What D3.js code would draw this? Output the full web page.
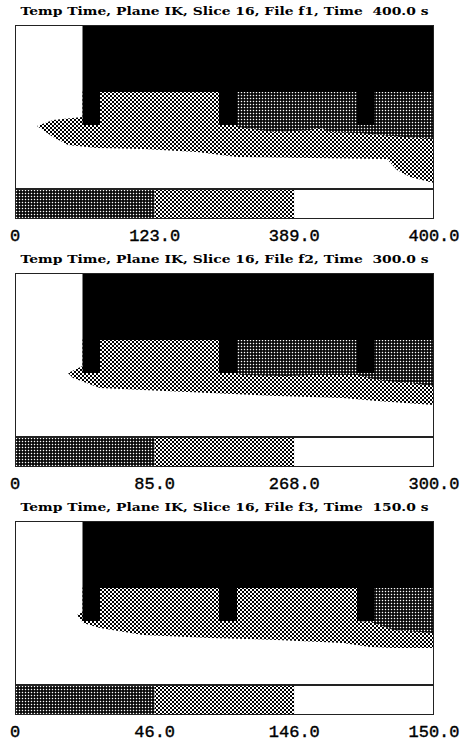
<!DOCTYPE html>
<html><head><meta charset="utf-8">
<script src="https://cdn.jsdelivr.net/npm/d3@7"></script>
<style>html,body{margin:0;padding:0;background:#fff;} svg{display:block}</style>
</head><body><svg id="chart" width="471" height="740"></svg>
<script>
// ---- data ----
const titles = [
  "Temp Time, Plane IK, Slice 16, File f1, Time  400.0 s",
  "Temp Time, Plane IK, Slice 16, File f2, Time  300.0 s",
  "Temp Time, Plane IK, Slice 16, File f3, Time  150.0 s"
];
const tickLabels = [
  ["0", "123.0", "389.0", "400.0"],
  ["0", "85.0", "268.0", "300.0"],
  ["0", "46.0", "146.0", "150.0"]
];
const legendClasses = ["dark", "light", "white"];

// plane geometry in grid units (I across, K down)
const planeWidth = 41.9, planeDepth = 16.4;
const blackTop = [6.75, 41.9, 0, 6.7];          // x0, x1, y0, y1
const teeth = [[6.75, 8.5], [20.4, 22.2], [34.2, 35.9]];
const toothBottom = 10.0;

// temperature band edges per file
const plumeTop = [
  [[2.2, 10.1], [3.8, 9.5], [6.75, 9.2]],
  [[5.3, 10.0], [6.75, 9.3]],
  [[6.2, 9.4], [6.75, 9.1]]
];
const plumeBottom = [
  [[2.2, 10.1], [3.8, 11.2], [5.3, 12.0], [8.2, 12.3], [12.8, 12.4], [18.2, 12.7], [22.2, 13.2],
   [29.5, 13.3], [37.2, 13.4], [38.2, 14.5], [39.5, 15.2], [41.9, 15.8]],
  [[5.3, 10.0], [5.8, 10.5], [8.5, 11.5], [12.8, 11.7], [19.5, 12.0], [26.2, 12.3], [32.8, 12.5],
   [36.2, 12.8], [41.9, 13.2]],
  [[6.2, 9.4], [6.8, 10.2], [8.5, 10.7], [12.8, 11.4], [19.5, 11.7], [26.2, 11.9], [32.8, 12.2],
   [35.5, 12.6], [37.8, 12.7], [41.9, 12.7]]
];
const darkEdge = [
  [[22.2, 10.2], [23.0, 10.3], [26.0, 10.7], [29.5, 10.5], [30.5, 10.3], [31.5, 10.7], [34.5, 10.8],
   [36.5, 11.0], [39.0, 11.2], [41.9, 11.4]],
  [[22.2, 10.1], [22.8, 10.2], [27.2, 10.3], [29.5, 10.2], [34.2, 10.2], [36.2, 10.7], [39.5, 11.0],
   [41.9, 11.3]],
  [[34.2, 10.0], [35.6, 10.1], [37.8, 10.9], [41.9, 11.2]]
];

// ---- layout ----
const panelTop0 = 25, panelStep = 248, frameH = 164, legendH = 30;
const left = 15, right = 434;

const svg = d3.select("#chart");
const defs = svg.append("defs");
const pl = defs.append("pattern").attr("id", "light").attr("patternUnits", "userSpaceOnUse")
  .attr("width", 4).attr("height", 4);
pl.append("rect").attr("width", 4).attr("height", 4).attr("fill", "#fff");
pl.append("rect").attr("x", 0).attr("y", 0).attr("width", 2).attr("height", 2).attr("fill", "#000");
pl.append("rect").attr("x", 2).attr("y", 2).attr("width", 2).attr("height", 2).attr("fill", "#000");
const pd = defs.append("pattern").attr("id", "dark").attr("patternUnits", "userSpaceOnUse")
  .attr("width", 3).attr("height", 3);
pd.append("rect").attr("width", 3).attr("height", 3).attr("fill", "#000");
pd.append("rect").attr("x", 0.8).attr("y", 0.8).attr("width", 1.4).attr("height", 1.4).attr("fill", "#fff");

const fillOf = c => c === "white" ? "#fff" : `url(#${c})`;

const x = d3.scaleLinear().domain([0, planeWidth]).range([left, right]);
const y = d3.scaleLinear().domain([0, planeDepth]).range([0, frameH]);
const line = d3.line().x(d => x(d[0])).y(d => y(d[1]));
const legX = d3.scaleBand().domain(legendClasses.map((d, i) => i)).range([left, right]).paddingInner(0);
const tickX = d3.scaleLinear().domain([0, 3]).range([left, right]);

titles.forEach((title, i) => {
  const g = svg.append("g").attr("transform", `translate(0,${panelTop0 + i * panelStep})`);

  g.append("rect").attr("x", x(0)).attr("y", y(0)).attr("width", x(planeWidth) - x(0))
    .attr("height", y(planeDepth) - y(0)).attr("fill", "#fff");

  const lightPts = plumeTop[i]
    .concat([[blackTop[0], blackTop[3]], [planeWidth, blackTop[3]]])
    .concat(plumeBottom[i].slice().reverse());
  g.append("path").attr("d", line(lightPts) + "Z").attr("fill", "url(#light)");

  const de = darkEdge[i];
  const darkPts = [[de[0][0], blackTop[3]], [planeWidth, blackTop[3]]].concat(de.slice().reverse());
  g.append("path").attr("d", line(darkPts) + "Z").attr("fill", "url(#dark)");

  g.append("rect").attr("x", x(blackTop[0])).attr("y", y(blackTop[2]))
    .attr("width", x(blackTop[1]) - x(blackTop[0])).attr("height", y(blackTop[3]) - y(blackTop[2]))
    .attr("fill", "#000");
  g.selectAll("rect.tooth").data(teeth).join("rect").attr("class", "tooth")
    .attr("x", d => x(d[0])).attr("y", y(blackTop[3]) - 0.5)
    .attr("width", d => x(d[1]) - x(d[0])).attr("height", y(toothBottom) - y(blackTop[3]) + 0.5)
    .attr("fill", "#000");

  g.append("rect").attr("x", x(0) + 0.5).attr("y", y(0) + 0.5)
    .attr("width", x(planeWidth) - x(0) - 1).attr("height", frameH - 1)
    .attr("fill", "none").attr("stroke", "#222").attr("stroke-width", 1);

  const lg = g.append("g").attr("transform", `translate(0,${frameH})`);
  lg.selectAll("rect.seg").data(legendClasses).join("rect").attr("class", "seg")
    .attr("x", (d, k) => legX(k)).attr("y", 0).attr("width", legX.bandwidth()).attr("height", legendH)
    .attr("fill", d => fillOf(d));
  lg.append("rect").attr("x", left + 0.5).attr("y", 0.5).attr("width", right - left - 1)
    .attr("height", legendH - 1).attr("fill", "none").attr("stroke", "#222");

  lg.selectAll("text").data(tickLabels[i]).join("text")
    .attr("x", (d, k) => tickX(k)).attr("y", legendH + 21.5)
    .attr("text-anchor", "middle")
    .attr("font-family", "'Liberation Mono', monospace").attr("font-size", 17)
    .attr("fill", "#000").attr("stroke", "#000").attr("stroke-width", 0.4).text(d => d);

  g.append("text").attr("x", (left + right) / 2).attr("y", -10)
    .attr("text-anchor", "middle").attr("font-family", "'DejaVu Serif', serif")
    .attr("font-weight", "bold").attr("font-size", 11.5)
    .attr("textLength", 408).attr("lengthAdjust", "spacingAndGlyphs")
    .style("white-space", "pre").attr("fill", "#000").text(title);
});
</script></body></html>
